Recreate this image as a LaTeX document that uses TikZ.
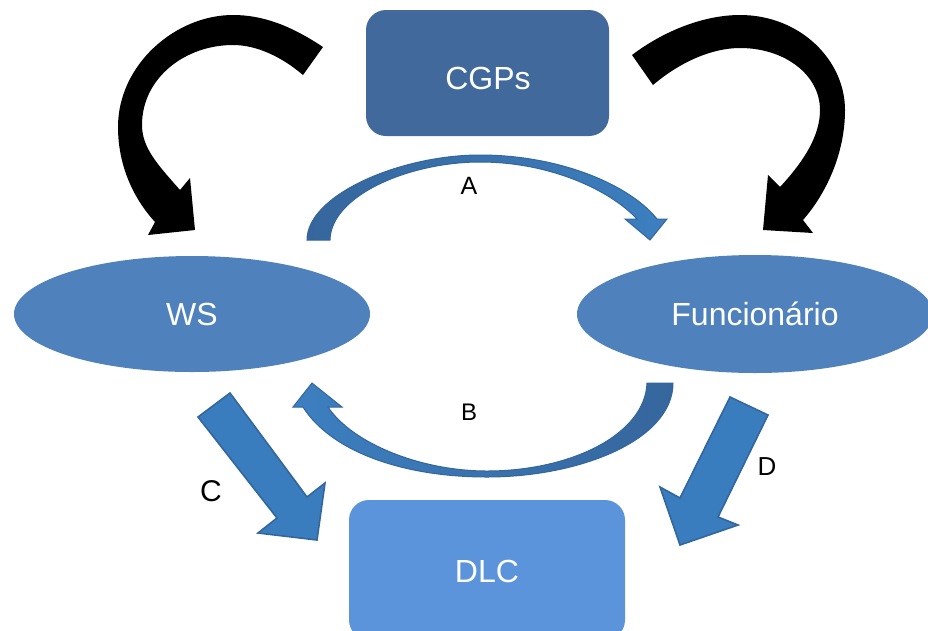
\documentclass[tikz,border=0pt]{standalone}
\usepackage{fontspec}
\setmainfont{Liberation Sans}
\usetikzlibrary{shapes.geometric}
\definecolor{cgpcol}{HTML}{41699C}
\definecolor{ellcol}{HTML}{4F81BD}
\definecolor{dlccol}{HTML}{5B94DB}
\definecolor{arrfill}{HTML}{3A7DBE}
\definecolor{arrline}{HTML}{33669C}
\definecolor{arrdark}{HTML}{36669C}
\definecolor{arrlight}{HTML}{3C7FC0}
\begin{document}
\begin{tikzpicture}[x=1pt,y=-1pt,
  boxstyle/.style={rectangle, rounded corners=20pt, draw=none, text=white, font=\fontsize{32}{38}\selectfont, inner sep=0pt},
  ellstyle/.style={ellipse, fill=ellcol, draw=none, text=white, font=\fontsize{32}{38}\selectfont, inner sep=0pt},
  whitetext/.style={text=white, font=\fontsize{32}{38}\selectfont, inner sep=0pt},
  blkarrow/.style={fill=black},
  strarrow/.style={fill=arrfill, draw=arrline, line width=1.6pt, line join=miter},
  curvarrow/.style={draw=arrline, line width=1pt, line join=miter},
  lbl/.style={text=black, inner sep=0pt}]
\useasboundingbox (0,0) rectangle (928,630);
\fill[white] (0,0) rectangle (928,630);

% nodes
\node[boxstyle, fill=cgpcol, minimum width=243pt, minimum height=126pt] (cgps) at (487.5,73) {};
\node[whitetext] (cgpst) at (488,78) {CGPs};
\node[boxstyle, fill=dlccol, minimum width=276pt, minimum height=140pt] (dlc) at (487,570) {};
\node[whitetext] (dlct) at (487,571) {DLC};
\node[ellstyle, minimum width=356pt, minimum height=116pt] (ws) at (192,314) {WS};
\node[ellstyle, minimum width=356pt, minimum height=118pt] (func) at (755,314) {Funcionário};

% black curved arrows
\path[blkarrow] (323,47) .. controls (290,25) and (262,15) .. (233,15)
  .. controls (175,15) and (118,65) .. (118,127)
  .. controls (118,165) and (133,198) .. (155,222)
  -- (148,235) -- (195,230) -- (190,178) -- (180,190)
  .. controls (158,165) and (142,148) .. (142,125)
  .. controls (142,78) and (185,45) .. (233,45)
  .. controls (258,45) and (283,58) .. (303,75) -- cycle;
\path[blkarrow] (632,55) .. controls (665,30) and (705,15) .. (740,15)
  .. controls (800,15) and (845,60) .. (845,110)
  .. controls (845,155) and (825,195) .. (803,220)
  -- (813,233) -- (763,230) -- (768,175) -- (780,187)
  .. controls (805,160) and (820,135) .. (820,110)
  .. controls (820,75) and (785,48) .. (740,48)
  .. controls (712,48) and (680,62) .. (653,85) -- cycle;

% curved arrow A
\path[curvarrow, left color=arrdark, right color=arrlight]
  (307,240) .. controls (307,195) and (400,155) .. (480,155)
  .. controls (560,155) and (630,185) .. (657,219)
  -- (667,219) -- (650,240) -- (625,219) -- (637,219)
  .. controls (610,190) and (550,162) .. (480,162)
  .. controls (410,162) and (331,195) .. (330,240) -- cycle;

% curved arrow B
\path[curvarrow, left color=arrlight, right color=arrdark]
  (673,383) .. controls (673,440) and (580,477) .. (487,477)
  .. controls (400,477) and (330,450) .. (303,407)
  -- (293,407) -- (312,383) -- (342,407) -- (328,407)
  .. controls (352,443) and (420,471) .. (487,471)
  .. controls (570,471) and (645,435) .. (647,383) -- cycle;

% straight arrows C and D
\path[strarrow] (198,417) -- (230,393) -- (307,497) -- (325,483) -- (317,540) -- (258,533) -- (277,518) -- cycle;
\path[strarrow] (730,397) -- (768,415) -- (718,517) -- (738,525) -- (680,545) -- (660,487) -- (680,498) -- cycle;

% labels
\node[lbl, font=\fontsize{25}{29}\selectfont] (la) at (469,186) {A};
\node[lbl, font=\fontsize{24}{28}\selectfont] (lb) at (469,412) {B};
\node[lbl, font=\fontsize{30}{34}\selectfont] (lc) at (211,491) {C};
\node[lbl, font=\fontsize{26}{30}\selectfont] (ld) at (767,467) {D};
\end{tikzpicture}
\end{document}
